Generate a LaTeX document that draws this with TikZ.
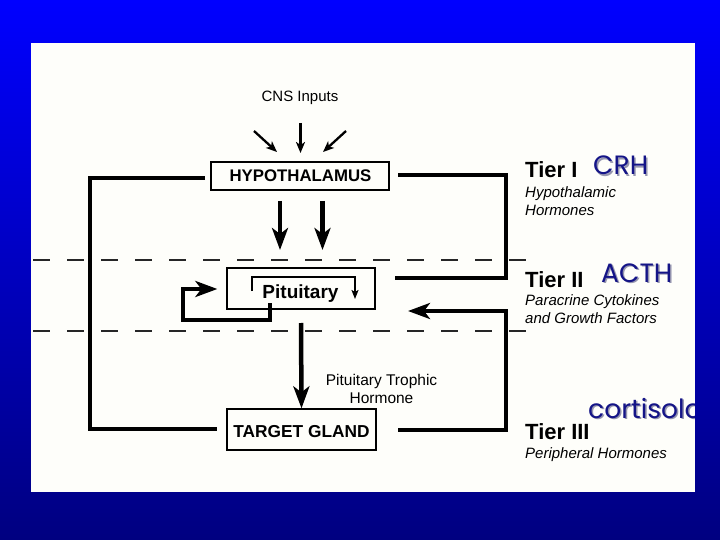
\documentclass[tikz,border=0pt]{standalone}
\usepackage{fontspec}
\setmainfont{Liberation Sans}
\newfontfamily\comicf{Poppins}
\usetikzlibrary{arrows.meta,calc}
\definecolor{topblue}{RGB}{0,0,255}
\definecolor{botblue}{RGB}{0,0,128}
\definecolor{annot}{RGB}{20,20,135}
\definecolor{annotshadow}{RGB}{150,150,175}
\definecolor{paper}{RGB}{254,254,250}
\begin{document}
\begin{tikzpicture}[x=1pt,y=-1pt,
  gbox/.style={draw,line width=1.3pt,inner sep=0pt},
  boxtext/.style={font=\bfseries\fontsize{16.8}{18}\selectfont,inner sep=0pt,anchor=base},
  plaintext/.style={font=\fontsize{15.5}{18}\selectfont,inner sep=0pt,anchor=base},
  tiertext/.style={font=\bfseries\fontsize{22}{24}\selectfont,inner sep=0pt,anchor=base west},
  subtext/.style={font=\itshape\fontsize{15}{18}\selectfont,inner sep=0pt,anchor=base west},
  annottext/.style={font=\comicf\fontsize{26.5}{30}\selectfont,inner sep=0pt,anchor=base west,text=annot},
  shadowtext/.style={font=\comicf\fontsize{26.5}{30}\selectfont,inner sep=0pt,anchor=base west,text=annotshadow},
  loopline/.style={line width=4.5pt},
  bigarrow/.style={line width=4.5pt,-{Stealth[length=22pt,width=16pt,inset=6pt]}},
  cnsarrow/.style={line width=2.3pt,-{Stealth[length=11pt,width=9pt,inset=3pt]}},
  tierdash/.style={line width=1.4pt,black!85,dash pattern=on 17pt off 17pt}
]
% background
\shade[top color=topblue,bottom color=botblue] (0,0) rectangle (720,540);
\fill[paper] (31,43) rectangle (695,492);
\useasboundingbox (0,0) rectangle (720,540);

% dashed tier separators
\draw[tierdash] (33,260) -- (535,260);
\draw[tierdash] (33,331) -- (535,331);

% boxes
\node[gbox,minimum width=178pt,minimum height=28pt] (hyp) at (300,176) {};
\node[gbox,minimum width=148pt,minimum height=41pt] (pit) at (301,288.5) {};
\node[gbox,minimum width=149pt,minimum height=41pt] (tg) at (301.5,429.5) {};
\node[boxtext] (hyptext) at (300.5,182) {HYPOTHALAMUS};
\node[boxtext,font=\bfseries\fontsize{19}{22}\selectfont] (pittext) at (300.5,298) {Pituitary};
\node[boxtext,font=\bfseries\fontsize{17.3}{20}\selectfont] (tgtext) at (301.5,437) {TARGET GLAND};

% CNS inputs
\node[plaintext,font=\fontsize{15}{18}\selectfont] (cns) at (300,102) {CNS Inputs};
\coordinate (c1s) at (254,131);
\coordinate (c1e) at (277,152);
\coordinate (c2s) at (300.5,123);
\coordinate (c2e) at (300.5,153);
\coordinate (c3s) at (346,131);
\coordinate (c3e) at (323,152);
\draw[cnsarrow] (c1s) -- (c1e);
\draw[cnsarrow] (c2s) -- (c2e);
\draw[cnsarrow] (c3s) -- (c3e);

% hypothalamus -> pituitary
\coordinate (h1s) at (280,201);
\coordinate (h1e) at (280,250);
\coordinate (h2s) at (322.5,201);
\coordinate (h2e) at (322.5,250);
\draw[bigarrow] (h1s) -- (h1e);
\draw[bigarrow] (h2s) -- (h2e);

% pituitary inner bracket
\coordinate (b1) at (252,291);
\coordinate (b2) at (355,277);
\coordinate (b3) at (355,299);
\draw[line width=1.6pt,-{Stealth[length=9pt,width=7pt,inset=2pt]}] (b1) |- (b2) -- (b3);

% pituitary short loop (left)
\coordinate (p1) at (270,303);
\coordinate (p2) at (183,320);
\coordinate (p3) at (183,289);
\draw[loopline,-{Stealth[length=22pt,width=16pt,inset=6pt]}] (p1) |- (p2) -- (p3) -- ([xshift=-9pt]pit.west |- p3);

% pituitary -> target gland
\coordinate (pt1) at (301,323);
\draw[bigarrow] (pt1) -- (tg.north);
\node[plaintext] (trophic1) at (381.5,385) {Pituitary Trophic};
\node[plaintext] (trophic2) at (381.5,403) {Hormone};

% long loop (left)
\coordinate (L1) at (205,178);
\coordinate (L2) at (90,429);
\coordinate (L3) at (217,429);
\draw[loopline] (L1) -| (L2) -- (L3);

% right upper loop
\coordinate (R1) at (398,175);
\coordinate (R2) at (506,278);
\coordinate (R3) at (395,278);
\draw[loopline] (R1) -| (R2) -- (R3);

% right lower loop
\coordinate (S1) at (398,430);
\coordinate (S2) at (506,311);
\coordinate (S3) at (408,311);
\draw[loopline,-{Stealth[length=22pt,width=16pt,inset=6pt]}] (S1) -| (S2) -- (S3);

% tier labels
\node[tiertext] (t1) at (525,178) {Tier I};
\node[subtext] (t1a) at (525,197) {Hypothalamic};
\node[subtext] (t1b) at (525,215) {Hormones};
\node[tiertext] (t2) at (525,287) {Tier II};
\node[subtext] (t2a) at (525,305) {Paracrine Cytokines};
\node[subtext] (t2b) at (525,323) {and Growth Factors};
\node[tiertext] (t3) at (525,439) {Tier III};
\node[subtext] (t3a) at (525,458) {Peripheral Hormones};

% annotations
\node[shadowtext] (crhs) at (594.5,176.5) {CRH};
\node[annottext] (crh) at (593,175) {CRH};
\node[shadowtext] (acths) at (602.5,283.5) {ACTH};
\node[annottext] (acth) at (601,282) {ACTH};
\node[shadowtext] (cortis) at (589.5,419.5) {cortisolo};
\node[annottext] (cortisolo) at (588,418) {cortisolo};

% right frame strip drawn over the clipped annotation
\shade[top color=topblue,bottom color=botblue] (695,0) rectangle (720,540);
\end{tikzpicture}
\end{document}
